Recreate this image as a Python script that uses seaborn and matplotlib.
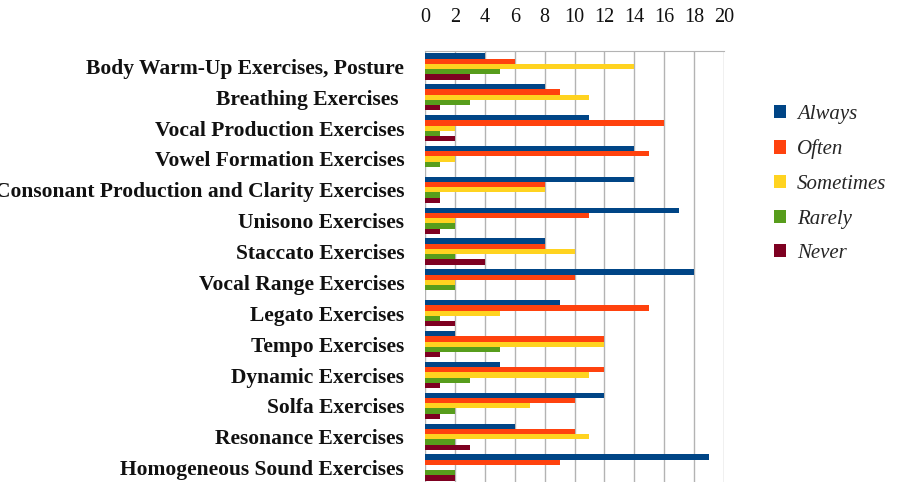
import matplotlib
matplotlib.use("Agg")
import matplotlib.pyplot as plt
import seaborn as sns
import pandas as pd
import numpy as np
from matplotlib.patches import Patch

categories = [
    "Body Warm-Up Exercises, Posture",
    "Breathing Exercises ",
    "Vocal Production Exercises",
    "Vowel Formation Exercises",
    "Consonant Production and Clarity Exercises",
    "Unisono Exercises",
    "Staccato Exercises",
    "Vocal Range Exercises",
    "Legato Exercises",
    "Tempo Exercises",
    "Dynamic Exercises",
    "Solfa Exercises",
    "Resonance Exercises",
    "Homogeneous Sound Exercises",
]
series = ["Always", "Often", "Sometimes", "Rarely", "Never"]
always = [4, 8, 11, 14, 14, 17, 8, 18, 9, 2, 5, 12, 6, 19]
often = [6, 9, 16, 15, 8, 11, 8, 10, 15, 12, 12, 10, 10, 9]
sometimes = [14, 11, 2, 2, 8, 2, 10, 2, 5, 12, 11, 7, 11, 0]
rarely = [5, 3, 1, 1, 1, 2, 2, 2, 1, 5, 3, 2, 2, 2]
never = [3, 1, 2, 0, 1, 1, 4, 0, 2, 1, 1, 1, 3, 2]
x_ticks = [0, 2, 4, 6, 8, 10, 12, 14, 16, 18, 20]
colors = ["#004586", "#ff420e", "#ffd320", "#579d1c", "#7e0021"]

rows = []
for s, vals in zip(series, [always, often, sometimes, rarely, never]):
    for c, v in zip(categories, vals):
        rows.append({"Exercise": c, "Response": s, "Count": v})
df = pd.DataFrame(rows)

sns.set_style("white")
FAM = ["Liberation Serif", "DejaVu Serif"]
plt.rcParams["font.family"] = FAM

fig = plt.figure(figsize=(8.97, 4.82), dpi=100)
ax = fig.add_axes([425 / 897, -1 / 482, (724 - 425) / 897, (483 - 51) / 482])

sns.barplot(data=df, y="Exercise", x="Count", hue="Response", order=categories,
            hue_order=series, palette=colors, orient="h", width=0.85,
            saturation=1, linewidth=0, ax=ax, legend=False, errorbar=None)

ax.set_xlim(0, 20)
ax.set_ylim(len(categories) - 0.5, -0.5)
ax.set_xticks(x_ticks)
ax.set_xticklabels([str(t) for t in x_ticks], family=FAM, fontsize=14.5, color="#111111")
ax.xaxis.tick_top()
ax.tick_params(axis="x", which="both", length=0, pad=17)
ax.grid(axis="x", color="#b3b3b3", linewidth=1)
ax.set_axisbelow(True)
ax.set_xlabel("")
ax.set_ylabel("")

ax.set_yticks(range(len(categories)))
ax.set_yticklabels(categories, family=FAM, fontweight="bold", fontsize=15.5, color="#111111")
ax.set_yticks(np.arange(-0.5, len(categories), 1), minor=True)
ax.tick_params(axis="y", which="major", length=0, pad=15)
ax.tick_params(axis="y", which="minor", length=12, color="#b3b3b3", width=1)

for side in ["right", "bottom", "left"]:
    ax.spines[side].set_visible(False)
ax.spines["top"].set_color("#b3b3b3")

handles = [Patch(facecolor=c, edgecolor="none") for c in colors]
fig.legend(handles, series, loc="upper left", bbox_to_anchor=(755 / 897, 1 - 86 / 482),
           frameon=False, prop={"family": FAM, "style": "italic", "size": 15},
           handlelength=0.6, handleheight=0.6, labelspacing=0.75, handletextpad=0.5)

fig.savefig("out.png", dpi=100)
